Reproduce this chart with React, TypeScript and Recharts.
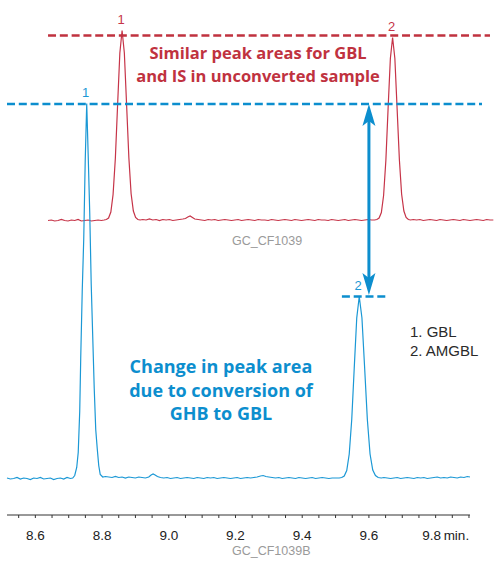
import React from "react";
import { LineChart, Line, XAxis, YAxis, ReferenceLine, ReferenceDot } from "recharts";

const W = 494;
const H = 564;

// retention time (min) and detector signal, blue = converted sample (GC_CF1039B)
const blueTime = [
  8.515, 8.525, 8.535, 8.545, 8.555, 8.565, 8.575, 8.585, 8.595, 8.605,
  8.615, 8.625, 8.635, 8.645, 8.655, 8.665, 8.675, 8.685, 8.695, 8.705,
  // GBL
  8.712, 8.718, 8.724, 8.7285, 8.733, 8.736, 8.7405, 8.745, 8.7495, 8.754,
  8.7585, 8.763, 8.7675, 8.772, 8.7765, 8.781, 8.7855, 8.79, 8.7945, 8.802,
  8.81, 8.82, 8.83, 8.84, 8.85, 8.86, 8.87, 8.88, 8.89, 8.9, 8.91, 8.92, 8.93, 8.94,
  8.947, 8.953, 8.959, 8.966,
  8.975, 8.985, 8.995, 9.005, 9.015, 9.025, 9.035, 9.045, 9.055, 9.065,
  9.075, 9.085, 9.095, 9.105, 9.115, 9.125, 9.135, 9.145, 9.155, 9.165,
  9.175, 9.185, 9.195, 9.205, 9.215, 9.225, 9.235, 9.245, 9.255, 9.265,
  9.275, 9.283, 9.291,
  9.3, 9.31, 9.32, 9.33, 9.34, 9.35, 9.36, 9.37, 9.38, 9.39, 9.4,
  9.41, 9.42, 9.43, 9.44, 9.45, 9.46, 9.47, 9.48, 9.49, 9.5,
  // AMGBL
  9.511, 9.5185, 9.526, 9.5335, 9.541, 9.5485, 9.556, 9.5635, 9.571,
  9.5791, 9.5872, 9.5953, 9.6034, 9.6115, 9.6196, 9.6277, 9.637,
  9.645, 9.655, 9.665, 9.675, 9.685, 9.695, 9.705, 9.715, 9.725, 9.735,
  9.745, 9.755, 9.765, 9.775, 9.785, 9.795, 9.805, 9.815, 9.825, 9.835,
  9.845, 9.855, 9.865, 9.875, 9.885, 9.895, 9.903,
];
const blueSignal = [
  0.5, -0.5, 0, 1, -0.5, 0.5, 0, -1, 0.5, 0,
  1, -0.5, 0, 0.5, -1, 0, 0.5, -0.5, 1, 0,
  0.5, 3, 11, 26, 67, 120, 187, 239, 318, 375,
  322, 266, 194, 142, 90, 49, 30, 13, 4, 1.5,
  2, 1.5, 1, 2, 1, 1.5, 0.5, 1.5, 1, 0.5, 1.5, 1, 0.5, 1.5,
  3.5, 4.5, 3.5, 2,
  1, 0.5, 1, 0, 0.5, 1, 0, 0.5, 1, 0.5,
  0, 1, 0.5, 0, 1, 0.5, 1, 0, 0.5, 1,
  0.5, 0, 0.5, 1, 0, 0.5, 1, 0.5, 1, 1.5,
  2.5, 3, 2,
  1.5, 1, 0.5, 1, 0, 0.5, 1, 0.5, 0, 1, 0.5,
  0, 0.5, 1, 0, 0.5, 1, 0.5, 0, 0.5, 0.5,
  0.5, 1, 2.5, 8, 24.5, 59, 110.5, 160.5, 182,
  160.5, 110.5, 59, 24.5, 8.5, 3, 1, 0.5,
  1, 0.5, 0, 0.5, 1, 0, 0.5, 1, 0.5, 0,
  1, 0.5, 1, 0, 0.5, 1, 1.5, 0.5, 1, 0.5,
  1.5, 1, 0.5, 1.5, 1, 2, 1.5,
];

// red = unconverted sample (GC_CF1039), drawn offset above the blue trace
const redTime = [
  8.638, 8.648, 8.658, 8.668, 8.678, 8.688, 8.698, 8.708, 8.718, 8.728,
  8.738, 8.748, 8.758, 8.768, 8.778, 8.788, 8.798,
  8.806, 8.8128, 8.8195, 8.8263, 8.833, 8.8398, 8.8465, 8.8533, 8.86,
  8.8668, 8.8735, 8.8803, 8.887, 8.8938, 8.9005, 8.9073, 8.914,
  8.922, 8.932, 8.942, 8.952, 8.962, 8.972, 8.982, 8.992, 9.002, 9.012, 9.022, 9.032, 9.042,
  9.05, 9.057, 9.064, 9.071, 9.078,
  9.088, 9.098, 9.108, 9.118, 9.128, 9.138, 9.148, 9.158, 9.168, 9.178,
  9.188, 9.198, 9.208, 9.218, 9.228, 9.238, 9.248, 9.258, 9.268, 9.278,
  9.288, 9.298, 9.308, 9.318, 9.328, 9.338, 9.348, 9.358, 9.368, 9.378,
  9.388, 9.398, 9.408, 9.418, 9.428, 9.438, 9.448, 9.458, 9.468, 9.478,
  9.488, 9.498, 9.508, 9.518, 9.528, 9.538, 9.548, 9.558, 9.568, 9.578,
  9.588, 9.598, 9.608,
  9.617, 9.6238, 9.6305, 9.6373, 9.644, 9.6508, 9.6575, 9.6643, 9.671,
  9.6778, 9.6845, 9.6913, 9.698, 9.7048, 9.7115, 9.7183, 9.725,
  9.733, 9.743, 9.753, 9.763, 9.773, 9.783, 9.793, 9.803, 9.813, 9.823,
  9.833, 9.843, 9.853, 9.863, 9.873, 9.883, 9.893, 9.903, 9.913, 9.923,
  9.933, 9.943, 9.953, 9.963, 9.973,
];
const redSignal = [
  0, 0.5, -0.5, 0, 1, 0, -0.5, 0.5, 0, 1,
  -0.5, 0, 0.5, -0.5, 0, 0.5, 0,
  0.5, 1, 2.5, 8.5, 26, 62, 115, 167.5, 190,
  167.5, 116, 63, 27, 9.5, 3, 1, 0.5,
  1, 0.5, 1.5, 0.5, 1, 0, 1, 0.5, 1, 0, 0.5, 1, 1.5,
  2, 3.5, 4.5, 3, 1.5,
  1, 0.5, 0, 1, 0.5, 1, 0, 0.5, 1, 0.5,
  0, 0.5, 1, 0, 0.5, 1, 0.5, 0, 1, 0.5,
  0.5, 0, 1, 0.5, 0, 0.5, 1, 0.5, 0, 1,
  0.5, 0, 0.5, 1, 0.5, 0, 1, 0.5, 0.5, 0,
  1, 0.5, 0, 0.5, 1, 0, 0.5, 1, 0.5, 0,
  0.5, 1, 0.5,
  0.5, 1, 2.5, 8, 25, 60, 112, 162, 183,
  162, 112, 61, 26.5, 9.5, 3, 1, 0.5,
  1, 0.5, 1, 0, 0.5, 1, 0.5, 0, 1, 0.5,
  0, 0.5, 1, 0.5, 0, 1, 0.5, 0, 0.5, 1,
  0.5, 0, 1, 0.5, 0.5,
];
const RED_OFFSET = 258;

const axisTicks = [
  8.55, 8.6, 8.65, 8.7, 8.75, 8.8, 8.85, 8.9, 8.95, 9.0, 9.05, 9.1, 9.15, 9.2,
  9.25, 9.3, 9.35, 9.4, 9.45, 9.5, 9.55, 9.6, 9.65, 9.7, 9.75, 9.8, 9.85, 9.9,
];
const tickValues = [8.6, 8.8, 9.0, 9.2, 9.4, 9.6, 9.8];
const tickLabels = ["8.6", "8.8", "9.0", "9.2", "9.4", "9.6", "9.8"];
const unitLabel = "min.";

const peakLabelTime = [8.754, 9.571, 8.86, 9.671];
const peakLabelLevel = [375, 182, 190 + RED_OFFSET, 183 + RED_OFFSET];
const peakLabelText = ["1", "2", "1", "2"];
const peakLabelSeries = ["blue", "blue", "red", "red"];

const legendLines = ["1. GBL", "2. AMGBL"];
const redNote = ["Similar peak areas for GBL", "and IS in unconverted sample"];
const blueNote = ["Change in peak area", "due to conversion of", "GHB to GBL"];

const BLUE = "#1b98d5";
const RED = "#c63448";
const BLUE_NOTE = "#0c8ece";
const RED_NOTE = "#c0323f";
const NARROW = "'Liberation Sans Narrow', 'Liberation Sans', sans-serif";
const PLAIN = "'Liberation Sans', Arial, sans-serif";
const BOLD = "'Open Sans', 'Noto Sans', sans-serif";

const blueData = blueTime.map((t, i) => ({ t, v: blueSignal[i] }));
const redData = redTime.map((t, i) => ({ t, v: redSignal[i] + RED_OFFSET }));

function TimeTick(props: any) {
  const { x, y, payload } = props;
  const i = tickValues.findIndex((v) => Math.abs(v - payload.value) < 1e-6);
  if (i < 0) return <g />;
  const last = i === tickValues.length - 1;
  return (
    <g>
      <text x={last ? x - 4 : x} y={y} dy="0.71em" textAnchor="middle" fontSize={13.5} fill="#222" fontFamily={NARROW}>
        {tickLabels[i]}
      </text>
      {last && (
        <text x={x + 8} y={y} dy="0.71em" textAnchor="start" fontSize={13.5} fill="#222" fontFamily={NARROW}>
          {unitLabel}
        </text>
      )}
    </g>
  );
}

function DoubleArrow(props: any) {
  const { x1, y1, y2 } = props;
  const top = Math.min(y1, y2);
  const bot = Math.max(y1, y2);
  const len = 22;
  const half = 6.5;
  const notch = 5;
  return (
    <g>
      <line x1={x1} y1={top + len - notch} x2={x1} y2={bot - len + notch} stroke={BLUE_NOTE} strokeWidth={3} />
      <path
        d={`M${x1},${top} L${x1 + half},${top + len} L${x1},${top + len - notch} L${x1 - half},${top + len} Z`}
        fill={BLUE_NOTE}
      />
      <path
        d={`M${x1},${bot} L${x1 + half},${bot - len} L${x1},${bot - len + notch} L${x1 - half},${bot - len} Z`}
        fill={BLUE_NOTE}
      />
    </g>
  );
}

export default function App() {
  return (
    <div style={{ position: "absolute", left: 0, top: 0, width: W, height: H, background: "#fff" }}>
      <LineChart width={W} height={H} margin={{ top: 0, right: 0, bottom: 0, left: 2 }}>
        <XAxis
          type="number"
          dataKey="t"
          domain={[8.5, 9.975]}
          allowDataOverflow
          ticks={axisTicks}
          interval={0}
          height={49}
          axisLine={false}
          tickLine={{ stroke: "#333" }}
          tickSize={3}
          tickMargin={12}
          tick={<TimeTick />}
        />
        <YAxis type="number" domain={[-36.5, 478.5]} allowDataOverflow hide />
        <ReferenceLine
          segment={[{ x: 8.515, y: -36.5 }, { x: 9.903, y: -36.5 }]}
          stroke="#333"
          strokeWidth={1}
        />
        <Line data={redData} dataKey="v" type="linear" stroke={RED} strokeWidth={1.2} dot={false} isAnimationActive={false} />
        <Line data={blueData} dataKey="v" type="linear" stroke={BLUE} strokeWidth={1.2} dot={false} isAnimationActive={false} />
        <ReferenceLine
          segment={[{ x: 8.638, y: 185 + RED_OFFSET }, { x: 9.963, y: 185 + RED_OFFSET }]}
          stroke={RED_NOTE}
          strokeWidth={2.5}
          strokeDasharray="8 3.8"
        />
        <ReferenceLine
          segment={[{ x: 8.515, y: 374.5 }, { x: 9.939, y: 374.5 }]}
          stroke={BLUE_NOTE}
          strokeWidth={2.5}
          strokeDasharray="8 3.8"
        />
        <ReferenceLine
          segment={[{ x: 9.519, y: 182 }, { x: 9.654, y: 182 }]}
          stroke={BLUE_NOTE}
          strokeWidth={2.5}
          strokeDasharray="8 3.8"
        />
        <ReferenceLine
          segment={[{ x: 9.6, y: 374.5 }, { x: 9.6, y: 183.5 }]}
          shape={(p: any) => <DoubleArrow {...p} />}
        />
        {peakLabelTime.map((t, i) => (
          <ReferenceDot
            key={i}
            x={t}
            y={peakLabelLevel[i]}
            r={0}
            shape={(p: any) => (
              <text
                x={p.cx - 1}
                y={p.cy - 7}
                textAnchor="middle"
                fontSize={13}
                fontFamily={NARROW}
                fill={peakLabelSeries[i] === "blue" ? BLUE : RED}
              >
                {peakLabelText[i]}
              </text>
            )}
          />
        ))}
      </LineChart>
      <svg width={W} height={H} style={{ position: "absolute", left: 0, top: 0, pointerEvents: "none" }}>
        {redNote.map((s, i) => (
          <text key={s} x={258} y={59 + i * 22.5} textAnchor="middle" fontFamily={BOLD} fontWeight={700} fontSize={16.5} fill={RED_NOTE}>
            {s}
          </text>
        ))}
        {blueNote.map((s, i) => (
          <text key={s} x={221} y={373 + i * 23.7} textAnchor="middle" fontFamily={BOLD} fontWeight={700} fontSize={18} fill={BLUE_NOTE}>
            {s}
          </text>
        ))}
        {legendLines.map((s, i) => (
          <text key={s} x={410} y={337 + i * 18.5} fontFamily={PLAIN} fontSize={15} fill="#2a2a2a">
            {s}
          </text>
        ))}
        <text x={232} y={245} fontFamily={PLAIN} fontSize={12.5} fill="#9a9a9a">GC_CF1039</text>
        <text x={232} y={555} fontFamily={PLAIN} fontSize={12.5} fill="#9a9a9a">GC_CF1039B</text>
      </svg>
    </div>
  );
}
